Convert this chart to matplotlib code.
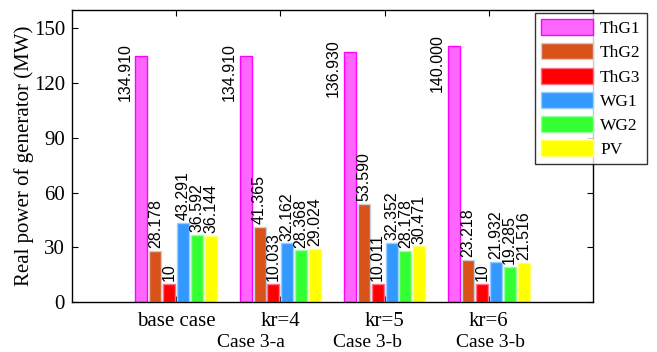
import numpy as np
import matplotlib
matplotlib.use('Agg')
import matplotlib.pyplot as plt

# generator outputs (MW) for each scenario
cases = ['base case', 'kr=4', 'kr=5', 'kr=6']
sub_labels = ['Case 3-a', 'Case 3-b', 'Case 3-b']
gens = ['ThG1', 'ThG2', 'ThG3', 'WG1', 'WG2', 'PV']
ThG1 = [134.910, 134.910, 136.930, 140.000]
ThG2 = [28.178, 41.365, 53.590, 23.218]
ThG3 = [10, 10.033, 10.011, 10]
WG1 = [43.291, 32.162, 32.352, 21.932]
WG2 = [36.592, 28.368, 28.178, 19.285]
PV = [36.144, 29.024, 30.471, 21.516]
labels_txt = [
    ['134.910', '134.910', '136.930', '140.000'],
    ['28.178', '41.365', '53.590', '23.218'],
    ['10', '10.033', '10.011', '10'],
    ['43.291', '32.162', '32.352', '21.932'],
    ['36.592', '28.368', '28.178', '19.285'],
    ['36.144', '29.024', '30.471', '21.516'],
]

faces = ['#ff66ff', '#d95319', '#ff0000', '#3399ff', '#33ff33', '#ffff00']
edges = ['#ff00ff', '#c8cfd8', '#ff6f8f', '#99ccff', '#99ff99', '#ffff66']

serif = 'Liberation Serif'
sans = 'Liberation Sans'

fig = plt.figure(figsize=(6.57, 3.52), dpi=100)
ax = fig.add_axes([0.1096, 0.142, 0.7930, 0.8296])

x = np.arange(1, len(cases) + 1)
pitch = 0.8 / 6
width = 0.115
series = [ThG1, ThG2, ThG3, WG1, WG2, PV]
handles = []
for i, vals in enumerate(series):
    xi = x + (i - 2.5) * pitch
    b = ax.bar(xi, vals, width, color=faces[i], edgecolor=edges[i],
               linewidth=1.0, label=gens[i], zorder=2)
    handles.append(b)
    for xx, v, t in zip(xi, vals, labels_txt[i]):
        if i == 0:
            ax.text(xx - width / 2 - 0.03, v + 7, t, rotation=90,
                    ha='right', va='top', fontsize=11.5, family=sans)
        else:
            ax.text(xx, v + 1.5, t, rotation=90, ha='center', va='bottom',
                    fontsize=11.5, family=sans)

ax.set_xlim(0, 5)
ax.set_ylim(0, 160)
ax.set_yticks(np.arange(0, 151, 30))
ax.set_xticks(x)
ax.set_xticklabels(cases, fontsize=15, family=serif)
for lab in ax.get_yticklabels():
    lab.set_fontsize(15)
    lab.set_family(serif)
ax.tick_params(direction='in', top=True, right=True, length=4, width=0.8)
ax.tick_params(axis='x', pad=7)
ax.tick_params(axis='y', pad=5)
ax.set_ylabel('Real power of generator (MW)', fontsize=15, family=serif, labelpad=0)
for s in ax.spines.values():
    s.set_linewidth(1.0)

# second line under the kr labels
for xs, t in zip([1.72, 2.84, 4.02], sub_labels):
    ax.text(xs, -0.138, t, transform=ax.get_xaxis_transform(), ha='center',
            va='center', fontsize=14, family=serif)

leg = fig.legend(handles=handles, loc='upper left',
                 bbox_to_anchor=(535 / 657, 1 - 13 / 352),
                 prop={'family': serif, 'size': 12.5}, frameon=True,
                 fancybox=False, handlelength=3.0, handleheight=1.05,
                 labelspacing=0.36, handletextpad=0.4, borderpad=0.35,
                 borderaxespad=0)
leg.get_frame().set_edgecolor('black')
leg.get_frame().set_linewidth(1.0)

fig.savefig('out.png', dpi=100)
